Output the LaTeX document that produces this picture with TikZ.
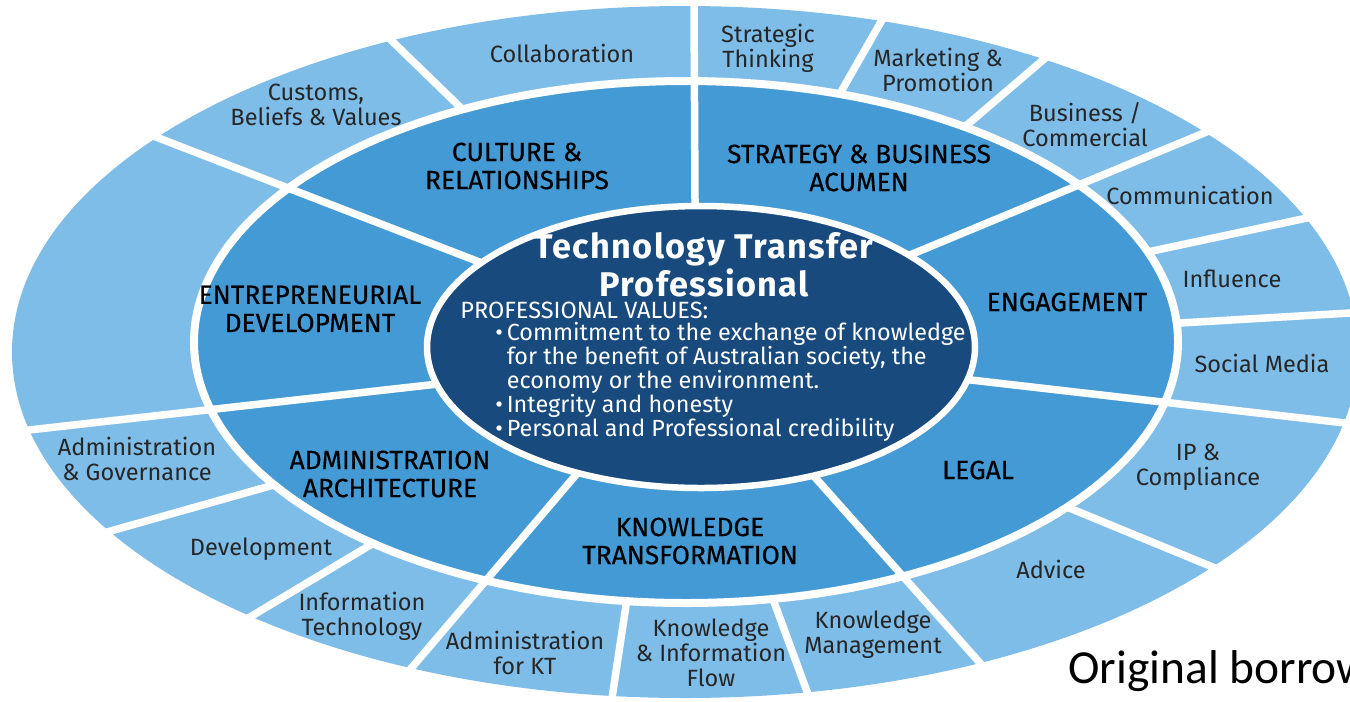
\documentclass[tikz,border=0pt]{standalone}
\usepackage{fontspec}
\setmainfont{Fira Sans}
\newfontfamily\midfont[FakeBold=0.35]{Fira Sans}
\newfontfamily\calibfont{Carlito}
\usetikzlibrary{positioning}
\definecolor{ringout}{RGB}{127,189,233}
\definecolor{ringmid}{RGB}{67,154,213}
\definecolor{core}{RGB}{24,74,125}
\tikzstyle{outer label}=[align=center,text=black!85,inner sep=0,font=\fontsize{13.4}{14.2}\selectfont]
\tikzstyle{mid label}=[align=center,text=black,inner sep=0,font=\midfont\fontsize{15}{16}\selectfont]
\tikzstyle{divider}=[white,line width=0.15cm,shorten <=-12pt,shorten >=-12pt]
\begin{document}
\begin{tikzpicture}[x=0.02cm,y=-0.02cm]
\useasboundingbox (0,0) rectangle (1350,701);
\clip (0,0) rectangle (1350,701);

\fill[ringout] (685,352) ellipse [x radius=673,y radius=346];
\foreach \xa/\ya/\xb/\yb in {460/107/393/42, 842/90/882/20, 967/125/1043/60,
    1157/250/1307/218, 1180/323/1350/313, 1079/512/1215/568, 777/610/809/697,
    625/612/612/698, 362/550/250/617, 263/488/107/532}
  \draw[divider] (\xa,\ya) -- (\xb,\yb);

\fill[ringmid,draw=white,line width=0.16cm] (686,342) ellipse [x radius=492,y radius=261];
\foreach \xa/\ya/\xb/\yb in {469/258/156/137, 695/200/694/5, 922/250/1204/133,
    971/380/1345/423, 820/483/980/663, 569/483/408/672, 429/385/29/430}
  \draw[divider] (\xa,\ya) -- (\xb,\yb);

\fill[core,draw=white,line width=0.13cm] (701,347) ellipse [x radius=274,y radius=141];

\node[outer label] (collab) at (562,53) {Collaboration};
\node[outer label] (customs) at (316,105) {Customs,\\Beliefs \& Values};
\node[outer label] (strat) at (768,48) {Strategic\\Thinking};
\node[outer label] (market) at (938,70) {Marketing \&\\Promotion};
\node[outer label] (business) at (1085,125) {Business /\\Commercial};
\node[outer label] (comm) at (1190,195) {Communication};
\node[outer label] (influence) at (1232,279) {Influence};
\node[outer label] (social) at (1262,363) {Social Media};
\node[outer label] (ip) at (1198,467) {IP \&\\Compliance};
\node[outer label] (advice) at (1051,569) {Advice};
\node[outer label] (kmanage) at (873,635) {Knowledge\\Management};
\node[outer label] (kflow) at (711,653) {Knowledge\\\& Information\\Flow};
\node[outer label] (adminkt) at (525,653) {Administration\\for KT};
\node[outer label] (infotech) at (362,616) {Information\\Technology};
\node[outer label] (devel) at (261,549) {Development};
\node[outer label] (admingov) at (137,459) {Administration\\\& Governance};

\node[mid label] (culture) at (517,166) {CULTURE \&\\RELATIONSHIPS};
\node[mid label] (strategy) at (859,168) {STRATEGY \& BUSINESS\\ACUMEN};
\node[mid label] (engage) at (1067,302) {ENGAGEMENT};
\node[mid label] (legal) at (978,470) {LEGAL};
\node[mid label] (ktrans) at (690,541) {KNOWLEDGE\\TRANSFORMATION};
\node[mid label] (adminarch) at (390,474) {ADMINISTRATION\\ARCHITECTURE};
\node[mid label] (entre) at (310,309) {ENTREPRENEURIAL\\DEVELOPMENT};

\node[align=center,text=white,inner sep=0,font=\fontsize{19.5}{21.5}\selectfont\bfseries\addfontfeature{LetterSpace=4}] (title) at (704,265) {Technology Transfer\\Professional};
\node[anchor=west,text=white,inner sep=0,font=\fontsize{13.4}{14}\selectfont] (values) at (460,310) {PROFESSIONAL VALUES:};
\node[anchor=north west,align=left,text=white,inner sep=0,font=\fontsize{13.3}{13.6}\selectfont] (bullets) at (495,322)
  {\textbullet\,Commitment to the exchange of knowledge\\
   \phantom{\textbullet\,}for the benefit of Australian society, the\\
   \phantom{\textbullet\,}economy or the environment.\\
   \textbullet\,Integrity and honesty\\
   \textbullet\,Personal and Professional credibility};

\node[anchor=base west,inner sep=0,font=\calibfont\fontsize{27}{30}\selectfont] (note) at (1068,683) {Original borrow};
\end{tikzpicture}
\end{document}
